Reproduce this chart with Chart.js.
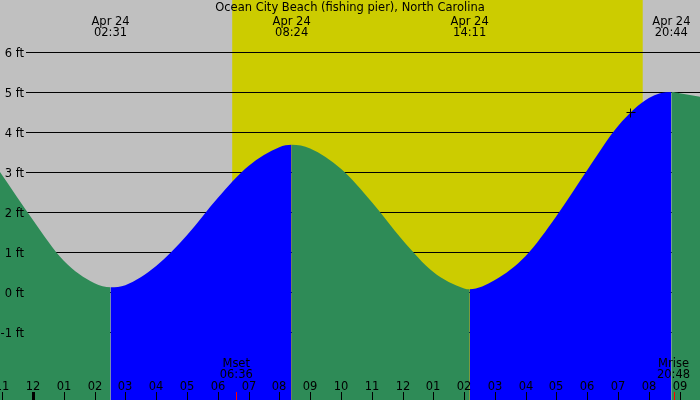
<!DOCTYPE html>
<html>
<head>
<meta charset="utf-8">
<script src="https://cdn.jsdelivr.net/npm/chart.js@4"></script>
<style>
  body { margin: 0; background: #c0c0c0; }
  #wrap { width: 700px; height: 400px; position: relative; }
</style>
</head>
<body>
<div id="wrap"><canvas id="tide"></canvas></div>
<script>
// tide curve (hours from midnight Apr 24, feet)
var tideHours = [-1.07, 0, 1, 2, 2.52, 3, 4, 5, 6, 7, 8, 8.40, 9, 10, 11, 12, 13, 14, 14.18, 15, 16, 17, 18, 19, 20, 20.73, 21, 21.66];
var tideFeet  = [3.00, 1.80, 0.78, 0.22, 0.12, 0.17, 0.65, 1.42, 2.35, 3.15, 3.62, 3.68, 3.59, 3.08, 2.25, 1.30, 0.50, 0.09, 0.07, 0.30, 0.90, 1.90, 3.05, 4.15, 4.85, 5.00, 4.97, 4.88];

// high / low events
var eventHours = [2.52, 8.40, 14.18, 20.73];
var eventTimes = ['02:31', '08:24', '14:11', '20:44'];

// moon events
var moonHours = [6.60, 20.80];
var moonNames = ['Mset', 'Mrise'];
var moonTimes = ['06:36', '20:48'];

var sunrise = 6.47, sunset = 19.80;
var nowHour = 19.38, nowFeet = 4.5;

var feetTicks = [6, 5, 4, 3, 2, 1, 0, -1];
var hourTicks = [];
for (var h = -1; h <= 21; h++) hourTicks.push(h);

var title = 'Ocean City Beach (fishing pier), North Carolina';
var FONT = '11.5px "DejaVu Sans", sans-serif';

var points = tideHours.map(function(h, i) { return { x: h, y: tideFeet[i] }; });

function hourLabel(h) {
  var v = ((h % 12) + 12) % 12;
  if (v === 0) v = 12;
  return (v < 10 ? '0' : '') + v;
}

var backdrop = {
  id: 'backdrop',
  beforeDatasetsDraw: function(chart) {
    var c = chart.ctx, xs = chart.scales.x, ys = chart.scales.y;
    var W = chart.width, H = chart.height;
    c.save();
    c.fillStyle = '#c0c0c0';
    c.fillRect(0, 0, W, H);
    // daylight
    var x1 = xs.getPixelForValue(sunrise), x2 = xs.getPixelForValue(sunset);
    c.fillStyle = '#cccc00';
    c.fillRect(x1, 0, x2 - x1, H);
    // foot lines
    c.strokeStyle = '#000';
    c.lineWidth = 1;
    feetTicks.forEach(function(f) {
      var y = Math.round(ys.getPixelForValue(f)) + 0.5;
      c.beginPath();
      c.moveTo(26, y);
      c.lineTo(W, y);
      c.stroke();
    });
    c.restore();
  },
  afterDatasetsDraw: function(chart) {
    var c = chart.ctx, xs = chart.scales.x, ys = chart.scales.y;
    var W = chart.width, H = chart.height;
    c.save();
    c.fillStyle = '#000';
    c.font = FONT;
    c.textBaseline = 'alphabetic';

    // foot labels
    c.textAlign = 'right';
    feetTicks.forEach(function(f) {
      c.fillText(f + ' ft', 24, Math.round(ys.getPixelForValue(f)) + 5);
    });

    // title and tide events
    c.textAlign = 'center';
    c.fillText(title, W / 2, 11);
    eventHours.forEach(function(h, i) {
      var x = xs.getPixelForValue(h);
      c.fillText('Apr 24', x, 24.5);
      c.fillText(eventTimes[i], x, 36);
    });

    // hour ticks
    hourTicks.forEach(function(h) {
      var x = Math.round(xs.getPixelForValue(h));
      c.fillText(hourLabel(h), x, 390);
      if (h === 0) c.fillRect(x - 1, 392, 3, H - 392);
      else c.fillRect(x, 392, 1, H - 392);
    });

    // moon
    moonHours.forEach(function(h, i) {
      var x = xs.getPixelForValue(h);
      c.fillStyle = '#000';
      c.fillText(moonNames[i], x, 367);
      c.fillText(moonTimes[i], x, 378);
      c.fillStyle = '#ff0000';
      c.fillRect(Math.round(x), 392, 1, H - 392);
    });

    // current level marker
    var px = Math.round(xs.getPixelForValue(nowHour)) + 0.5;
    var py = Math.round(ys.getPixelForValue(nowFeet)) + 0.5;
    c.strokeStyle = '#000';
    c.lineWidth = 1;
    c.beginPath();
    c.moveTo(px - 4, py); c.lineTo(px + 5, py);
    c.moveTo(px, py - 4); c.lineTo(px, py + 5);
    c.stroke();
    c.restore();
  }
};

new Chart(document.getElementById('tide'), {
  type: 'line',
  data: {
    datasets: [{
      data: points,
      borderColor: 'transparent',
      borderWidth: 0,
      pointRadius: 0,
      fill: 'start',
      backgroundColor: '#2e8b57',
      cubicInterpolationMode: 'monotone',
      segment: {
        backgroundColor: function(ctx) {
          return ctx.p1.parsed.y > ctx.p0.parsed.y ? '#0000ff' : '#2e8b57';
        }
      }
    }]
  },
  options: {
    responsive: true,
    maintainAspectRatio: false,
    animation: false,
    layout: { padding: 0 },
    plugins: { legend: { display: false }, tooltip: { enabled: false } },
    scales: {
      x: { type: 'linear', display: false, min: -1.07, max: 21.66 },
      y: { type: 'linear', display: false, min: -2.7, max: 7.3 }
    }
  },
  plugins: [backdrop]
});
</script>
</body>
</html>
